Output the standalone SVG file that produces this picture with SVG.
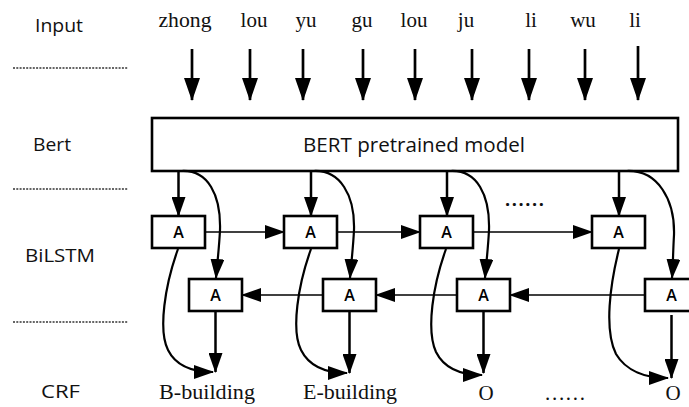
<svg xmlns="http://www.w3.org/2000/svg" width="689" height="407" viewBox="0 0 689 407">
<defs>
<marker id="big" markerUnits="userSpaceOnUse" markerWidth="16" markerHeight="23" refX="8" refY="22" orient="0" viewBox="0 0 16 23">
<path d="M0,0 L16,0 L8,23 z" fill="#000"/>
</marker>
<marker id="ah" markerUnits="userSpaceOnUse" markerWidth="20" markerHeight="14" refX="19" refY="7" orient="auto" viewBox="0 0 20 14">
<path d="M0,0 L20,7 L0,14 z" fill="#000"/>
</marker>
<style>
.lbl{font-family:"Open Sans","DejaVu Sans",sans-serif;font-size:18px;fill:#111}
.ser{font-family:"Liberation Serif","Times New Roman",serif;font-size:21px;fill:#111;text-anchor:middle}
.box{fill:#fff;stroke:#000;stroke-width:2.6}
.a{font-family:"Open Sans","DejaVu Sans",sans-serif;font-size:16px;font-weight:600;text-anchor:middle;fill:#000}
.dot{stroke:#333;stroke-width:1.3;stroke-dasharray:2 1.3;fill:none}
.in{stroke:#000;stroke-width:2.7;fill:none;marker-end:url(#big)}
.v{stroke:#000;stroke-width:2.5;fill:none;marker-end:url(#ah)}
.h{stroke:#000;stroke-width:1.7;fill:none;marker-end:url(#ah)}
.c{stroke:#000;stroke-width:2.2;fill:none;marker-end:url(#ah)}
</style>
</defs>
<rect width="689" height="407" fill="#fff"/>

<g id="left-labels">
<text class="lbl" x="35" y="32" textLength="48" lengthAdjust="spacingAndGlyphs">Input</text>
<text class="lbl" x="33" y="151" textLength="38" lengthAdjust="spacingAndGlyphs">Bert</text>
<text class="lbl" x="25" y="262" textLength="70" lengthAdjust="spacingAndGlyphs">BiLSTM</text>
<text class="lbl" x="41" y="398" textLength="39" lengthAdjust="spacingAndGlyphs">CRF</text>
<line class="dot" x1="13" y1="68" x2="128" y2="68"/>
<line class="dot" x1="13" y1="189" x2="128" y2="189"/>
<line class="dot" x1="13" y1="322" x2="128" y2="322"/>
</g>

<g id="inputs">
<text class="ser" x="185" y="27" textLength="53" lengthAdjust="spacingAndGlyphs">zhong</text>
<text class="ser" x="254" y="27">lou</text>
<text class="ser" x="306" y="27">yu</text>
<text class="ser" x="362" y="27">gu</text>
<text class="ser" x="414" y="27">lou</text>
<text class="ser" x="466" y="27">ju</text>
<text class="ser" x="531" y="27">li</text>
<text class="ser" x="583" y="27">wu</text>
<text class="ser" x="635" y="27">li</text>
</g>

<g id="bert">
<rect class="box" x="152" y="118" width="526" height="53"/>
<text class="lbl" x="414" y="152" text-anchor="middle" style="font-size:20px" textLength="222" lengthAdjust="spacingAndGlyphs">BERT pretrained model</text>
</g>

<g id="fw1"><rect class="box" x="152" y="216" width="53" height="32"/><text class="a" x="178.5" y="238">A</text></g>
<g id="fw2"><rect class="box" x="284" y="216" width="53" height="32"/><text class="a" x="310.5" y="238">A</text></g>
<g id="fw3"><rect class="box" x="420" y="216" width="53" height="32"/><text class="a" x="446.5" y="238">A</text></g>
<g id="fw4"><rect class="box" x="592" y="216" width="53" height="32"/><text class="a" x="618.5" y="238">A</text></g>

<g id="bw1"><rect class="box" x="189" y="279" width="53" height="32"/><text class="a" x="215.5" y="301">A</text></g>
<g id="bw2"><rect class="box" x="323" y="279" width="53" height="32"/><text class="a" x="349.5" y="301">A</text></g>
<g id="bw3"><rect class="box" x="457" y="279" width="53" height="32"/><text class="a" x="483.5" y="301">A</text></g>
<g id="bw4"><rect class="box" x="645" y="279" width="53" height="32"/><text class="a" x="671.5" y="301">A</text></g>

<g id="dots-mid">
<text class="lbl" x="505" y="206" textLength="39" lengthAdjust="spacing" style="font-size:18px;font-weight:700">......</text>
</g>

<g id="outputs">
<text class="ser" x="207" y="399" textLength="96" lengthAdjust="spacingAndGlyphs">B-building</text>
<text class="ser" x="350" y="399" textLength="94" lengthAdjust="spacingAndGlyphs">E-building</text>
<text class="ser" x="486" y="400">O</text>
<text class="ser" x="565" y="400" textLength="40" lengthAdjust="spacing">......</text>
<text class="ser" x="673" y="400">O</text>
</g>

<g id="connectors">
<line class="in" x1="192" y1="49" x2="192" y2="100"/>
<line class="in" x1="250" y1="49" x2="250" y2="100"/>
<line class="in" x1="303" y1="49" x2="303" y2="100"/>
<line class="in" x1="363" y1="49" x2="363" y2="100"/>
<line class="in" x1="415" y1="49" x2="415" y2="100"/>
<line class="in" x1="472" y1="49" x2="472" y2="100"/>
<line class="in" x1="529" y1="49" x2="529" y2="100"/>
<line class="in" x1="585" y1="49" x2="585" y2="100"/>
<line class="in" x1="638" y1="46" x2="638" y2="100"/>

<line class="v" x1="178.5" y1="171" x2="178.5" y2="216"/>
<line class="v" x1="311" y1="171" x2="311" y2="216"/>
<line class="v" x1="447" y1="171" x2="447" y2="216"/>
<line class="v" x1="619" y1="171" x2="619" y2="216"/>

<path class="c" d="M182,171 C208,170 221,195 220,230 C219,250 217,265 216,278"/>
<path class="c" d="M314,171 C340,170 355,195 354,230 C353,250 351,265 350,278"/>
<path class="c" d="M451,171 C477,170 490,195 489,230 C488,250 486,265 485,278"/>
<path class="c" d="M627,171 C658,170 675,200 674,235 C673,252 673,265 672,278"/>

<line class="h" x1="205" y1="232" x2="284" y2="232"/>
<line class="h" x1="337" y1="232" x2="420" y2="232"/>
<line class="h" x1="473" y1="232" x2="592" y2="232"/>
<line class="h" x1="323" y1="295" x2="242" y2="295"/>
<line class="h" x1="457" y1="295" x2="376" y2="295"/>
<line class="h" x1="645" y1="295" x2="510" y2="295"/>

<line class="v" x1="215.5" y1="311" x2="215.5" y2="372"/>
<line class="v" x1="349.5" y1="311" x2="349.5" y2="373"/>
<line class="v" x1="483.5" y1="311" x2="483.5" y2="373"/>
<line class="v" x1="671.5" y1="315" x2="671.5" y2="378"/>

<path class="c" d="M178,249 C165,285 158,330 168,350 C176,366 192,372 213,372"/>
<path class="c" d="M311,249 C298,285 291,330 301,350 C309,366 326,373 347,373"/>
<path class="c" d="M446,249 C433,285 426,330 436,352 C444,368 461,375 482,375"/>
<path class="c" d="M619,249 C610,285 604,330 616,354 C626,371 646,378 668,378"/>
</g>
</svg>
